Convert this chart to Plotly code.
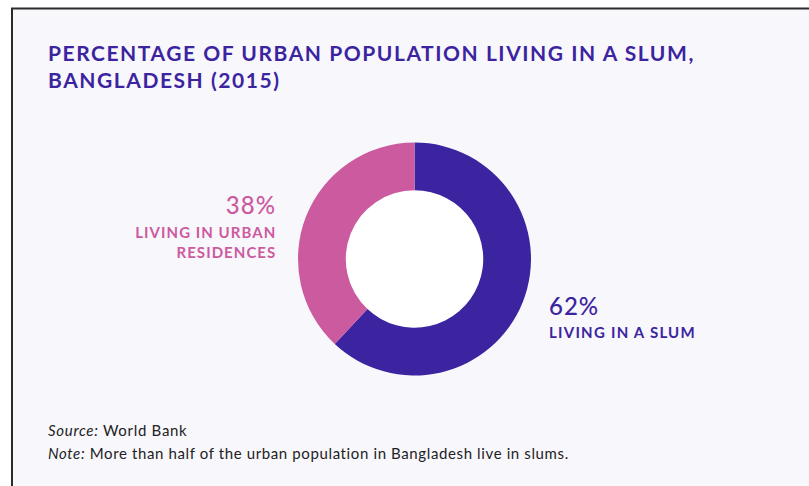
import json
import plotly.graph_objects as go

W, H = 809, 486

# ---- data ----
categories = ["Living in a slum", "Living in urban residences"]
values = [62, 38]
label_lines = [["LIVING IN A SLUM"], ["LIVING IN URBAN", "RESIDENCES"]]
colors = ["#3c24a0", "#cc5a9f"]
title_lines = ["PERCENTAGE OF URBAN POPULATION LIVING IN A SLUM,", "BANGLADESH (2015)"]
source_text = "World Bank"
note_text = "More than half of the urban population in Bangladesh live in slums."

BG = "#f8f7fc"
FONT = "Lato"


def px(x):
    return x / W


def py(y):
    return 1 - y / H


# donut geometry (pixels)
cx, cy, R = 414.5, 259.0, 116.5
hole = 0.59

fig = go.Figure()
fig.add_trace(go.Pie(
    labels=categories,
    values=values,
    marker=dict(colors=colors, line=dict(width=0)),
    hole=hole,
    sort=False,
    direction="clockwise",
    rotation=0,
    textinfo="none",
    hoverinfo="label+percent",
    showlegend=False,
    domain=dict(x=[px(cx - R), px(cx + R)], y=[py(cy + R), py(cy - R)]),
))

shapes = [
    # panel with border on top and left
    dict(type="rect", xref="paper", yref="paper",
         x0=px(12), x1=1.2, y0=-0.2, y1=py(8.5),
         fillcolor=BG, line=dict(color="#2b2b2b", width=2), layer="below"),
    # white hole center
    dict(type="circle", xref="paper", yref="paper",
         x0=px(cx - R * hole), x1=px(cx + R * hole),
         y0=py(cy + R * hole), y1=py(cy - R * hole),
         fillcolor="white", line=dict(width=0), layer="below"),
]

annotations = [
    dict(text="<br>".join(title_lines), x=px(45.5), y=py(38), xanchor="left", yanchor="top",
         align="left", showarrow=False,
         font=dict(family=FONT, size=21, color="#3c24a0", weight=700)),
    # pink label
    dict(text=f"{values[1]}%", x=px(278), y=py(188), xanchor="right", yanchor="top",
         align="right", showarrow=False,
         font=dict(family=FONT, size=24, color=colors[1], weight=500)),
    dict(text="<br>".join(label_lines[1]), x=px(278), y=py(221), xanchor="right", yanchor="top",
         align="right", showarrow=False,
         font=dict(family=FONT, size=15, color=colors[1], weight=700)),
    # purple label
    dict(text=f"{values[0]}%", x=px(547), y=py(289), xanchor="left", yanchor="top",
         align="left", showarrow=False,
         font=dict(family=FONT, size=24, color=colors[0], weight=500)),
    dict(text="<br>".join(label_lines[0]), x=px(547), y=py(321), xanchor="left", yanchor="top",
         align="left", showarrow=False,
         font=dict(family=FONT, size=15, color=colors[0], weight=700)),
    # footer
    dict(text=f"<i>Source:</i> {source_text}", x=px(46), y=py(419), xanchor="left", yanchor="top",
         align="left", showarrow=False,
         font=dict(family=FONT, size=15, color="#222222")),
    dict(text=f"<i>Note:</i> {note_text}", x=px(46), y=py(442), xanchor="left", yanchor="top",
         align="left", showarrow=False,
         font=dict(family=FONT, size=15, color="#222222")),
]

# letter spacing (px) applied to each annotation, same order as above
letter_spacing = [1.55, 1.05, 1.05, 1.0, 1.25, 0.7, 0.62]

fig.update_layout(
    width=W, height=H,
    margin=dict(l=0, r=0, t=0, b=0),
    paper_bgcolor="white",
    plot_bgcolor="white",
    shapes=shapes,
    annotations=annotations,
)

post = """
document.body.style.margin = '0';
var gd = document.getElementById('{plot_id}');
var ls = %s;
gd.querySelectorAll('.annotation').forEach(function (a, i) {
  var t = a.querySelector('.annotation-text');
  if (t && ls[i] !== undefined) { t.style.letterSpacing = ls[i] + 'px'; }
});
""" % json.dumps(letter_spacing)

fig.write_html("out.html", post_script=post, config={"displayModeBar": False})
